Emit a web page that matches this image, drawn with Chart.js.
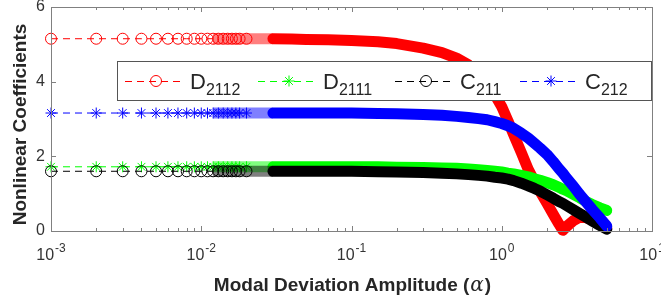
<!DOCTYPE html>
<html>
<head>
<meta charset="utf-8">
<script src="https://cdn.jsdelivr.net/npm/chart.js@4.4.1/dist/chart.umd.min.js"></script>
<style>
html,body{margin:0;padding:0;background:#fff;}
#wrap{width:661px;height:299px;}
</style>
</head>
<body>
<div id="wrap"><canvas id="chart" width="661" height="299"></canvas></div>
<script>
// data

const alphas = [
0.001,0.002,0.003,0.004,0.005,0.006,0.007,0.008,0.009,0.010,
0.011,0.012,0.013,0.014,0.015,0.016,0.017,0.018,0.020,0.022,
0.025,0.030,0.040,0.050,0.070,0.10,0.15,0.20,0.30,0.40,
0.50,0.60,0.70,0.80,0.90,1.0,1.1,1.2,1.35,1.5,
1.65,1.8,2.0,2.2,2.4,2.55,2.7,3.0,3.3,3.6,
4.0,4.5,5.0
];

const d2112 = [
5.15,5.15,5.15,5.15,5.15,5.15,5.15,5.15,5.15,5.15,
5.15,5.15,5.15,5.15,5.15,5.15,5.15,5.15,5.15,5.15,
5.15,5.15,5.14,5.13,5.12,5.10,5.07,5.02,4.90,4.78,
4.63,4.45,4.22,3.95,3.65,3.33,2.95,2.58,2.10,1.65,
1.33,1.06,0.74,0.45,0.19,0.02,0.12,0.28,0.37,0.36,
0.30,0.18,0.08
];

const d2111 = [
1.72,1.72,1.72,1.72,1.72,1.72,1.72,1.72,1.72,1.72,
1.72,1.72,1.72,1.72,1.72,1.72,1.72,1.72,1.72,1.72,
1.72,1.72,1.72,1.72,1.72,1.72,1.72,1.71,1.70,1.69,
1.68,1.66,1.64,1.62,1.60,1.58,1.55,1.53,1.49,1.45,
1.40,1.36,1.30,1.24,1.17,1.12,1.08,0.98,0.89,0.80,
0.71,0.62,0.55
];

const c211 = [
1.60,1.60,1.60,1.60,1.60,1.60,1.60,1.60,1.60,1.60,
1.60,1.60,1.60,1.60,1.60,1.60,1.60,1.60,1.60,1.60,
1.60,1.60,1.60,1.60,1.60,1.60,1.59,1.58,1.57,1.55,
1.53,1.51,1.49,1.47,1.44,1.42,1.39,1.35,1.28,1.21,
1.14,1.07,0.97,0.88,0.79,0.74,0.68,0.57,0.47,0.38,
0.27,0.15,0.05
];

const c212 = [
3.16,3.16,3.16,3.16,3.16,3.16,3.16,3.16,3.16,3.16,
3.16,3.16,3.16,3.16,3.16,3.16,3.16,3.16,3.16,3.16,
3.16,3.16,3.16,3.16,3.16,3.16,3.15,3.14,3.12,3.10,
3.07,3.04,3.01,2.98,2.93,2.88,2.82,2.75,2.62,2.49,
2.35,2.22,2.05,1.86,1.67,1.55,1.42,1.20,0.98,0.80,
0.58,0.35,0.13
];

const seriesNames = ["D_2112","D_2111","C_211","C_212"];
const xTickValues = [0.001,0.01,0.1,1,10];
const xTickLabels = ["10^-3","10^-2","10^-1","10^0","10^1"];
const xTitle = ["Modal Deviation Amplitude (", "\u03B1", ")"];
const yTitle = "Nonlinear Coefficients";

const FONT = '"Liberation Sans", Arial, Helvetica, sans-serif';

function fade(c){
  return c.replace('rgb(','rgba(').replace(')',',0.5)');
}

function makeSet(i, values, color, style, order){
  return {
    label: seriesNames[i],
    data: alphas.map((a,k)=>({x:a, y:values[k]})),
    borderColor: color,
    backgroundColor: 'rgba(0,0,0,0)',
    pointStyle: style,
    pointRadius: ctx => alphas[ctx.dataIndex] <= 0.02 ? 5.5 : 0,
    pointHoverRadius: 0,
    pointBorderColor: color,
    pointBackgroundColor: 'rgba(0,0,0,0)',
    pointBorderWidth: 1,
    borderWidth: 1,
    tension: 0,
    clip: false,
    order: order,
    borderJoinStyle: 'round',
    segment: {
      borderWidth: ctx => ctx.p1.parsed.x <= 0.012 ? 1 : 11,
      borderColor: ctx => {
        const x = ctx.p1.parsed.x;
        if (x <= 0.012) return color;
        if (x <= 0.03) return fade(color);
        return color;
      },
      borderDash: ctx => ctx.p1.parsed.x <= 0.012 ? [7,5] : [],
      borderCapStyle: ctx => ctx.p1.parsed.x <= 0.03 ? 'butt' : 'round'
    }
  };
}

// axes box, ticks, tick labels, titles

const frame = {
  id: 'frame',
  afterDatasetsDraw(chart){
    const {ctx, chartArea:a, scales:{x}} = chart;
    ctx.save();
    ctx.strokeStyle = '#808080';
    ctx.lineWidth = 1;
    ctx.strokeRect(a.left+0.5, a.top+0.5, a.right-a.left, a.bottom-a.top);

    ctx.beginPath();
    for (let d=-3; d<1; d++){
      for (let m=1; m<10; m++){
        const px = Math.round(x.getPixelForValue(m*Math.pow(10,d)))+0.5;
        const len = m===1 ? 5 : 3;
        ctx.moveTo(px, a.bottom); ctx.lineTo(px, a.bottom-len);
        ctx.moveTo(px, a.top); ctx.lineTo(px, a.top+len);
      }
    }
    const ys = chart.scales.y;
    ys.ticks.forEach(t=>{
      const py = Math.round(ys.getPixelForValue(t.value))+0.5;
      ctx.moveTo(a.left, py); ctx.lineTo(a.left+5, py);
      ctx.moveTo(a.right, py); ctx.lineTo(a.right-5, py);
    });
    ctx.stroke();

    ctx.fillStyle = '#333';
    ctx.textAlign = 'left';
    ctx.textBaseline = 'alphabetic';
    xTickValues.forEach((v,i)=>{
      const parts = xTickLabels[i].split('^');
      ctx.font = '16px ' + FONT;
      const w1 = ctx.measureText(parts[0]).width;
      ctx.font = '12px ' + FONT;
      const w2 = ctx.measureText(parts[1]).width;
      const px = x.getPixelForValue(v);
      const x0 = px - (w1 + w2 + 1)/2;
      ctx.font = '16px ' + FONT;
      ctx.fillText(parts[0], x0, 260);
      ctx.font = '12px ' + FONT;
      ctx.fillText(parts[1], x0 + w1 + 1, 252);
    });

    // x title, alpha in italic like the TeX one
    ctx.fillStyle = '#262626';
    const fonts = ['bold 19px ' + FONT, 'italic 20px "DejaVu Serif", serif', 'bold 19px ' + FONT];
    let total = 0;
    const widths = xTitle.map((s,k)=>{ ctx.font = fonts[k]; const w = ctx.measureText(s).width; total += w; return w; });
    let tx = (a.left+a.right)/2 - total/2;
    xTitle.forEach((s,k)=>{ ctx.font = fonts[k]; ctx.fillText(s, tx + (k===1 ? 1 : 0), 291); tx += widths[k] + (k===1 ? 2 : 0); });

    ctx.font = 'bold 19px ' + FONT;
    ctx.textAlign = 'center';
    ctx.translate(26, 124.5);
    ctx.rotate(-Math.PI/2);
    ctx.fillText(yTitle, 0, 0);
    ctx.restore();
  },

  // legend with subscripts
  afterDraw(chart){
    const ctx = chart.ctx;
    ctx.save();
    ctx.fillStyle = '#fff';
    ctx.fillRect(117, 61, 534, 39);
    ctx.strokeStyle = '#555';
    ctx.lineWidth = 1;
    ctx.strokeRect(117.5, 61.5, 534, 39);

    const starts = [125, 258, 395, 520];
    chart.data.datasets.forEach((ds,i)=>{
      const sx = starts[i];
      const cy = 81;
      ctx.strokeStyle = ds.borderColor;
      ctx.setLineDash([7,5]);
      ctx.beginPath();
      ctx.moveTo(sx, cy+0.5); ctx.lineTo(sx+57, cy+0.5);
      ctx.stroke();
      ctx.setLineDash([]);
      ctx.fillStyle = 'rgba(0,0,0,0)';
      Chart.helpers.drawPoint(ctx, {pointStyle: ds.pointStyle, radius: 5.5, rotation: 0, borderWidth: 1}, sx+31, cy);

      const parts = ds.label.split('_');
      ctx.fillStyle = '#262626';
      ctx.textAlign = 'left';
      ctx.font = '22px ' + FONT;
      const tx = sx + 65;
      ctx.fillText(parts[0], tx, 89);
      const w = ctx.measureText(parts[0]).width;
      ctx.font = '16px ' + FONT;
      ctx.fillText(parts[1], tx + w, 95);
    });
    ctx.restore();
  }
};

new Chart(document.getElementById("chart"),{
  type: 'line',
  data: {
    datasets: [
      makeSet(0, d2112, 'rgb(255,0,0)', 'circle', 4),
      makeSet(1, d2111, 'rgb(0,255,0)', 'star', 3),
      makeSet(2, c211, 'rgb(0,0,0)', 'circle', 2),
      makeSet(3, c212, 'rgb(0,0,255)', 'star', 1)
    ]
  },
  options: {
    responsive: false,
    animation: false,
    events: [],
    layout: { padding: {left:0, right:9, top:7, bottom:0} },
    plugins: { legend: {display:false}, tooltip: {enabled:false} },
    scales: {
      x: {
        type: 'logarithmic',
        min: 0.001,
        max: 10,
        ticks: { display: false },
        grid: { display: false, drawTicks: false },
        border: { display: false },
        afterFit: s => { s.height = 68; s.paddingLeft = 0; s.paddingRight = 0; }
      },
      y: {
        min: 0,
        max: 6,
        ticks: { stepSize: 2, color: '#333', padding: 6, font: {size: 16, family: FONT} },
        grid: { display: false, drawTicks: false },
        border: { display: false },
        afterFit: s => { s.width = 51; s.paddingTop = 0; s.paddingBottom = 0; }
      }
    }
  },
  plugins: [frame]
});
</script>
</body>
</html>
